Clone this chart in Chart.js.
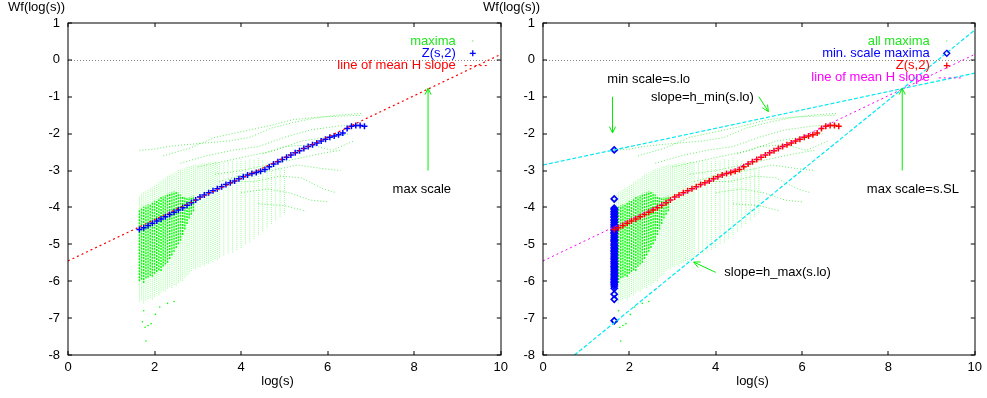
<!DOCTYPE html>
<html>
<head>
<meta charset="utf-8">
<script src="https://cdn.jsdelivr.net/npm/chart.js@4/dist/chart.umd.min.js"></script>
<style>
  html, body { margin: 0; padding: 0; background: #fff; }
  #wrap { position: relative; width: 987px; height: 398px; overflow: hidden; }
  canvas { position: absolute; top: 0; }
  #left { left: 0; }
  #right { left: 475px; }
</style>
</head>
<body>
<div id="wrap">
  <canvas id="left" width="513" height="398"></canvas>
  <canvas id="right" width="512" height="398"></canvas>
</div>
<script>
// axis ranges
const xRange = [0, 10];
const yRange = [-8, 1];

// maxima cloud, as vertical columns (x, top, bottom)
const maximaColX = [1.65, 1.70, 1.75, 1.80, 1.85, 1.90, 1.95, 2.00, 2.05, 2.10, 2.15, 2.20, 2.25, 2.30, 2.35, 2.40, 2.45, 2.50,
  2.55, 2.60, 2.65, 2.70, 2.75, 2.80, 2.85, 2.90, 2.95, 3.00, 3.05, 3.10, 3.15, 3.20, 3.25, 3.30, 3.35, 3.40, 3.45, 3.50,
  3.60, 3.70, 3.80, 3.90, 4.00, 4.10, 4.20, 4.30, 4.40, 4.50, 4.60, 4.70, 4.80, 4.90, 5.00];
const maximaColHigh = [-3.70, -3.62, -3.58, -3.55, -3.50, -3.46, -3.45, -3.40, -3.36, -3.30, -3.28, -3.22, -3.20, -3.15, -3.10, -3.08, -3.05, -3.02,
  -2.98, -2.97, -2.95, -2.92, -2.90, -2.88, -2.87, -2.85, -2.84, -2.83, -2.82, -2.80, -2.80, -2.79, -2.78, -2.78, -2.77, -2.76, -2.76, -2.75,
  -2.78, -2.74, -2.72, -2.75, -2.70, -2.72, -2.68, -2.70, -2.66, -2.70, -2.75, -2.80, -2.85, -2.90, -2.95];
const maximaColLow = [-6.55, -6.50, -6.60, -6.52, -6.48, -6.45, -6.50, -6.42, -6.35, -6.38, -6.30, -6.25, -6.28, -6.20, -6.15, -6.18, -6.10, -6.12,
  -6.05, -5.98, -6.00, -5.90, -5.85, -5.80, -5.72, -5.65, -5.68, -5.60, -5.62, -5.55, -5.58, -5.50, -5.52, -5.45, -5.48, -5.40, -5.42, -5.35,
  -5.30, -5.25, -5.22, -5.15, -5.10, -5.00, -4.95, -4.85, -4.75, -4.65, -4.55, -4.45, -4.35, -4.25, -4.15];

// dense core of the cloud
const coreX = [1.65, 1.70, 1.75, 1.80, 1.85, 1.90, 1.95, 2.00, 2.05, 2.10, 2.15, 2.20, 2.25,
  2.30, 2.35, 2.40, 2.45, 2.50, 2.55, 2.60, 2.65, 2.70, 2.75, 2.80, 2.85, 2.90];
const coreHigh = [-4.05, -4.02, -3.98, -3.95, -3.92, -3.90, -3.86, -3.82, -3.80, -3.76, -3.72, -3.70, -3.66,
  -3.62, -3.60, -3.58, -3.56, -3.58, -3.60, -3.65, -3.70, -3.72, -3.75, -3.72, -3.70, -3.68];
const coreLow = [-6.00, -5.95, -6.05, -5.92, -5.90, -5.85, -5.88, -5.80, -5.75, -5.70, -5.72, -5.60, -5.55,
  -5.50, -5.40, -5.30, -5.20, -5.10, -5.00, -4.90, -4.75, -4.60, -4.45, -4.30, -4.20, -4.10];

// single maxima lines wandering above / below the cloud
const maxLineA = [[1.65, -2.45], [2.0, -2.42], [2.3, -2.35], [2.7, -2.3], [3.2, -2.25], [3.7, -2.2], [4.2, -2.1], [4.7, -1.85], [5.2, -1.7], [5.7, -1.58], [6.2, -1.5], [6.8, -1.45]];
const maxLineB = [[2.2, -2.6], [2.8, -2.4], [3.4, -2.1], [4.0, -1.95], [4.6, -1.8], [5.2, -1.62], [5.8, -1.55], [6.4, -1.52], [6.8, -1.5]];
const maxLineC = [[2.6, -2.8], [3.2, -2.6], [3.8, -2.45], [4.4, -2.35], [5.0, -2.1], [5.6, -1.9], [6.2, -1.8], [6.7, -1.75]];
const maxLineD = [[3.0, -2.9], [3.6, -2.75], [4.2, -2.6], [4.8, -2.45], [5.4, -2.2], [6.0, -2.1], [6.5, -2.0]];
const maxLineE = [[3.4, -3.1], [4.0, -3.0], [4.6, -2.85], [5.2, -2.7], [5.8, -2.55], [6.3, -2.45]];
const maxLineF = [[3.8, -3.3], [4.3, -3.3], [4.9, -3.15], [5.4, -3.2], [5.9, -3.5], [6.2, -3.6]];
const maxLineG = [[4.0, -3.6], [4.6, -3.5], [5.1, -3.6], [5.6, -3.8], [6.0, -3.85]];
const maxLineH = [[4.4, -3.9], [5.0, -3.95], [5.5, -4.1]];
const maxLineI = [[3.5, -3.3], [4.1, -3.1], [4.7, -3.0], [5.3, -2.85], [5.9, -2.95], [6.3, -3.0]];
const maxLineJ = [[4.5, -2.55], [5.0, -2.35], [5.6, -2.3], [6.1, -2.45], [6.6, -2.2]];
const maxLines = [maxLineA, maxLineB, maxLineC, maxLineD, maxLineE, maxLineF, maxLineG, maxLineH, maxLineI, maxLineJ];

// stray low maxima
const strayX = [1.72, 1.78, 1.85, 1.92, 1.80, 2.02, 1.75, 2.30, 2.45, 2.12];
const strayY = [-7.10, -7.25, -7.20, -7.15, -7.62, -6.90, -6.80, -6.60, -6.55, -6.70];

// Z(s,2)
const zX = [1.65, 1.75, 1.85, 1.95, 2.05, 2.15, 2.25, 2.35, 2.45, 2.55, 2.65, 2.75, 2.85, 2.95, 3.05, 3.15, 3.25, 3.35,
  3.45, 3.55, 3.65, 3.75, 3.85, 3.95, 4.05, 4.15, 4.25, 4.35, 4.45, 4.55, 4.65, 4.75, 4.85, 4.95, 5.05, 5.15, 5.25,
  5.35, 5.45, 5.55, 5.65, 5.75, 5.85, 5.95, 6.05, 6.15, 6.25, 6.35, 6.45, 6.55, 6.65, 6.75, 6.85];
const zY = [-4.60, -4.55, -4.49, -4.43, -4.37, -4.31, -4.25, -4.19, -4.13, -4.07, -4.01, -3.94, -3.87, -3.80, -3.72, -3.66, -3.60, -3.55,
  -3.49, -3.44, -3.38, -3.33, -3.28, -3.22, -3.17, -3.12, -3.08, -3.05, -3.02, -2.97, -2.90, -2.82, -2.76, -2.70, -2.64, -2.58, -2.52,
  -2.46, -2.40, -2.35, -2.30, -2.25, -2.20, -2.15, -2.10, -2.06, -2.03, -1.98, -1.86, -1.80, -1.78, -1.78, -1.80];

// min. scale maxima (all at log(s) = 1.65)
const minScaleX = 1.65;
const minScaleY = [-2.44, -3.77, -4.02, -4.06, -4.11, -4.15, -4.19, -4.24, -4.27, -4.33, -4.36, -4.41, -4.46, -4.50, -4.54,
  -4.59, -4.63, -4.68, -4.71, -4.77, -4.81, -4.86, -4.90, -4.93, -4.99, -5.03, -5.08, -5.12, -5.16, -5.20, -5.25, -5.29,
  -5.34, -5.38, -5.42, -5.47, -5.51, -5.56, -5.60, -5.64, -5.69, -5.73, -5.78, -5.82, -5.86, -5.91, -5.95, -6.00, -6.04,
  -6.08, -6.13, -6.19, -6.35, -6.49, -7.07];

// straight lines
const meanLineX = [0, 10], meanLineY = [-5.45, 0.15];
const hMinLineX = [0, 10], hMinLineY = [-2.85, -0.36];
const hMaxLineX = [0.73, 10], hMaxLineY = [-8, 0.81];

// labels and arrows (data coords)
const leftNotes = [['max scale', 7.5, -3.5]];
const leftArrows = [[8.32, -3.0, 8.32, -0.77]];
const rightNotes = [['min scale=s.lo', 1.49, -0.52], ['slope=h_min(s.lo)', 2.5, -1.03], ['slope=h_max(s.lo)', 4.2, -5.77], ['max scale=s.SL', 7.5, -3.5]];
const rightArrows = [[1.61, -1.0, 1.61, -1.98], [5.0, -1.0, 5.22, -1.40], [4.0, -5.76, 3.49, -5.48], [8.32, -3.0, 8.32, -0.77]];

const GREEN = '#00ff00', BLUE = '#0000ff', RED = '#ff0000', MAGENTA = '#ff00ff', CYAN = '#00e8f0';
const FONT = "'Liberation Sans', Arial, Helvetica, sans-serif";

Chart.defaults.font.family = FONT;
Chart.defaults.font.size = 13;
Chart.defaults.color = '#000';

const toPts = (xs, ys) => xs.map((x, i) => ({ x: x, y: ys[i] }));
const columns = (xs, hi, lo) => {
  const pts = [];
  xs.forEach((x, i) => { pts.push({ x: x, y: lo[i] }, { x: x, y: hi[i] }, { x: x, y: null }); });
  return pts;
};

const maximaSets = () => {
  const sets = [
    { data: columns(maximaColX, maximaColHigh, maximaColLow), borderColor: 'rgba(0,255,0,0.4)', borderWidth: 1, borderDash: [1, 1], pointRadius: 0, order: 6 },
    { data: columns(coreX, coreHigh, coreLow), borderColor: 'rgba(0,255,0,1)', borderWidth: 1.4, borderDash: [2, 1], pointRadius: 0, order: 5 },
    { data: toPts(strayX, strayY), showLine: false, pointRadius: 0.8, pointBorderWidth: 0, backgroundColor: GREEN, order: 4 }
  ];
  maxLines.forEach(l => sets.push({
    data: l.map(p => ({ x: p[0], y: p[1] })), borderColor: 'rgba(0,230,0,0.6)', borderWidth: 1, borderDash: [1, 2], pointRadius: 0, order: 4
  }));
  return sets;
};

function drawArrow(ctx, x1, y1, x2, y2) {
  const a = Math.atan2(y2 - y1, x2 - x1), L = 7, w = 0.45;
  ctx.beginPath();
  ctx.moveTo(x1, y1); ctx.lineTo(x2, y2);
  ctx.moveTo(x2 - L * Math.cos(a - w), y2 - L * Math.sin(a - w));
  ctx.lineTo(x2, y2);
  ctx.lineTo(x2 - L * Math.cos(a + w), y2 - L * Math.sin(a + w));
  ctx.stroke();
}

function drawSample(ctx, kind, color, x, y) {
  ctx.save();
  ctx.strokeStyle = color; ctx.fillStyle = color; ctx.lineWidth = 1.3;
  if (kind === 'dot') {
    ctx.fillRect(x - 0.5, y - 0.5, 1, 1);
  } else if (kind === 'cross') {
    ctx.beginPath(); ctx.moveTo(x - 3, y); ctx.lineTo(x + 3, y); ctx.moveTo(x, y - 3); ctx.lineTo(x, y + 3); ctx.stroke();
  } else if (kind === 'diamond') {
    ctx.beginPath(); ctx.moveTo(x, y - 3); ctx.lineTo(x + 3, y); ctx.lineTo(x, y + 3); ctx.lineTo(x - 3, y); ctx.closePath(); ctx.stroke();
  } else {
    ctx.lineWidth = 1; ctx.setLineDash([2, 3]);
    ctx.beginPath(); ctx.moveTo(x - 8, y); ctx.lineTo(x + 15, y); ctx.stroke();
  }
  ctx.restore();
}

// gnuplot-like frame, inner ticks, key, labels and arrows
const makeFrame = (legendItems, notes, arrows) => ({
  id: 'gnuFrame',
  beforeDatasetsDraw(chart) {
    const { ctx, chartArea: a, scales: { y } } = chart;
    const y0 = Math.round(y.getPixelForValue(0)) + 0.5;
    ctx.save();
    ctx.strokeStyle = '#888'; ctx.lineWidth = 1; ctx.setLineDash([1, 2]);
    ctx.beginPath(); ctx.moveTo(a.left, y0); ctx.lineTo(a.right, y0); ctx.stroke();
    ctx.restore();
  },
  afterDatasetsDraw(chart) {
    const { ctx, chartArea: a, scales: { x, y } } = chart;
    ctx.save();
    ctx.strokeStyle = '#000'; ctx.lineWidth = 1;
    ctx.strokeRect(Math.round(a.left), Math.round(a.top), Math.round(a.right - a.left), Math.round(a.bottom - a.top));
    ctx.beginPath();
    x.ticks.forEach(t => {
      const px = Math.round(x.getPixelForValue(t.value));
      ctx.moveTo(px, a.bottom); ctx.lineTo(px, a.bottom - 4);
      ctx.moveTo(px, a.top); ctx.lineTo(px, a.top + 4);
    });
    y.ticks.forEach(t => {
      const py = Math.round(y.getPixelForValue(t.value));
      ctx.moveTo(a.left, py); ctx.lineTo(a.left + 4, py);
      ctx.moveTo(a.right, py); ctx.lineTo(a.right - 4, py);
    });
    ctx.stroke();

    ctx.font = '13px ' + FONT;
    ctx.fillStyle = '#000';
    ctx.textBaseline = 'middle';
    ctx.textAlign = 'left';
    ctx.fillText('Wf(log(s))', 8, 7);
    ctx.textAlign = 'center';
    ctx.fillText('log(s)', a.left + 209.5, 381);

    // key
    legendItems.forEach((it, i) => {
      const ly = a.top + 18 + i * 12.3;
      ctx.textAlign = 'right';
      ctx.fillStyle = it.color;
      ctx.fillText(it.text, a.right - 45, ly);
      drawSample(ctx, it.kind, it.color, a.right - 28, ly);
    });

    // labels and arrows
    ctx.fillStyle = '#000';
    ctx.textAlign = 'left';
    notes.forEach(n => ctx.fillText(n[0], x.getPixelForValue(n[1]), y.getPixelForValue(n[2])));
    ctx.strokeStyle = '#00ee00'; ctx.lineWidth = 1;
    arrows.forEach(r => drawArrow(ctx, x.getPixelForValue(r[0]), y.getPixelForValue(r[1]), x.getPixelForValue(r[2]), y.getPixelForValue(r[3])));
    ctx.restore();
  }
});

const baseOptions = (rightPad) => ({
  responsive: false,
  animation: false,
  layout: { padding: { left: 0, right: rightPad, top: 23, bottom: 0 } },
  plugins: { legend: { display: false }, tooltip: { enabled: false } },
  scales: {
    x: {
      type: 'linear', min: xRange[0], max: xRange[1],
      ticks: { stepSize: 2, padding: 5, color: '#000', maxRotation: 0 },
      grid: { display: false, drawTicks: false },
      border: { display: false },
      afterFit(s) { s.height = 43; }
    },
    y: {
      type: 'linear', min: yRange[0], max: yRange[1],
      ticks: { stepSize: 1, padding: 8, color: '#000' },
      grid: { display: false, drawTicks: false },
      border: { display: false },
      afterFit(s) { s.width = 68; }
    }
  }
});

const setupLeftChart = () => {
  const datasets = [
    { label: 'line of mean H slope', data: toPts(meanLineX, meanLineY), borderColor: RED, borderWidth: 1.2, borderDash: [2, 3], pointRadius: 0, order: 1 },
    { label: 'Z(s,2)', data: toPts(zX, zY), showLine: false, pointStyle: 'cross', pointRadius: 3, pointBorderWidth: 1.5, borderColor: BLUE, order: 2 }
  ].concat(maximaSets());
  return new Chart(document.getElementById('left'), {
    type: 'line',
    data: { datasets },
    options: baseOptions(8),
    plugins: [makeFrame([
      { text: 'maxima', color: '#22e622', kind: 'dot' },
      { text: 'Z(s,2)', color: BLUE, kind: 'cross' },
      { text: 'line of mean H slope', color: RED, kind: 'line' }
    ], leftNotes, leftArrows)]
  });
};

const setupRightChart = () => {
  const datasets = [
    { label: 'h_min', data: toPts(hMinLineX, hMinLineY), borderColor: CYAN, borderWidth: 1.2, borderDash: [4, 2], pointRadius: 0, order: 0 },
    { label: 'h_max', data: toPts(hMaxLineX, hMaxLineY), borderColor: CYAN, borderWidth: 1.2, borderDash: [4, 2], pointRadius: 0, order: 0 },
    { label: 'line of mean H slope', data: toPts(meanLineX, meanLineY), borderColor: MAGENTA, borderWidth: 1, borderDash: [2, 3], pointRadius: 0, order: 1 },
    { label: 'Z(s,2)', data: toPts(zX, zY), showLine: false, pointStyle: 'cross', pointRadius: 3, pointBorderWidth: 1.5, borderColor: RED, order: 2 },
    { label: 'min. scale maxima', data: minScaleY.map(v => ({ x: minScaleX, y: v })), showLine: false, pointStyle: 'rectRot', pointRadius: 3, pointBorderWidth: 1.7, borderColor: BLUE, backgroundColor: 'rgba(0,0,0,0)', order: 3 }
  ].concat(maximaSets());
  return new Chart(document.getElementById('right'), {
    type: 'line',
    data: { datasets },
    options: baseOptions(8),
    plugins: [makeFrame([
      { text: 'all maxima', color: '#22e622', kind: 'dot' },
      { text: 'min. scale maxima', color: BLUE, kind: 'diamond' },
      { text: 'Z(s,2)', color: RED, kind: 'cross' },
      { text: 'line of mean H slope', color: MAGENTA, kind: 'line' }
    ], rightNotes, rightArrows)]
  });
};

setupLeftChart();
setupRightChart();
</script>
</body>
</html>
